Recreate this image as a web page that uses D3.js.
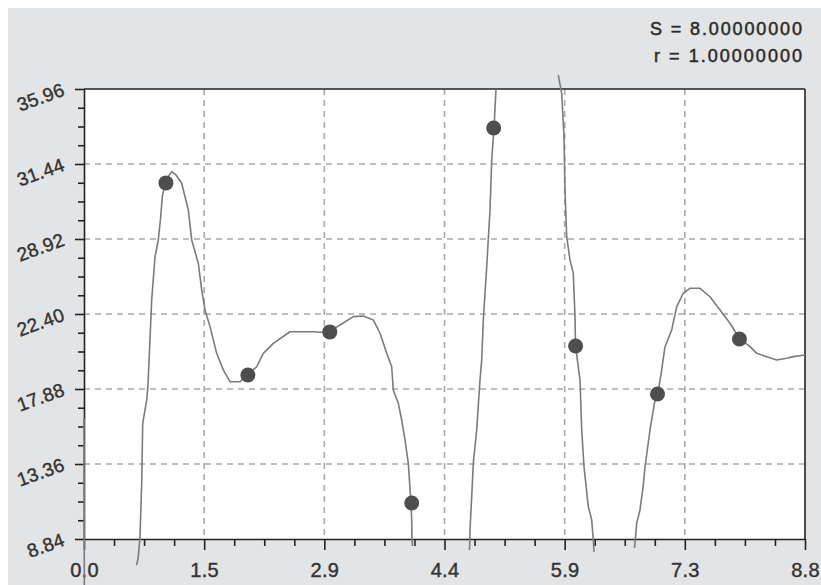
<!DOCTYPE html>
<html>
<head>
<meta charset="utf-8">
<script src="https://cdn.jsdelivr.net/npm/d3@7"></script>
<style>
  html, body { margin: 0; padding: 0; background: #ffffff; }
  svg { display: block; font-family: "Liberation Sans", Arial, sans-serif; }
</style>
</head>
<body>
<script>
// ---------------- data ----------------
const xTickValues = [0, 1.4667, 2.9333, 4.4, 5.8667, 7.3333, 8.8];
const xTickLabels = ["0.0", "1.5", "2.9", "4.4", "5.9", "7.3", "8.8"];
const yTickValues = [8.84, 13.36, 17.88, 22.40, 26.92, 31.44, 35.96];
const yTickLabels = ["8.84", "13.36", "17.88", "22.40", "28.92", "31.44", "35.96"];

const pointX = [1, 2, 3, 4, 5, 6, 7, 8];
const pointY = [30.30, 18.72, 21.32, 11.01, 33.61, 20.47, 17.58, 20.89];

const annotationLines = ["S = 8.00000000", "r = 1.00000000"];

// fitted spline, traced in pieces (it leaves the frame between them)
const curveA = [[0, 16.13], [0.004, 6.07]];
const curveB = [[0.6432, 7.27], [0.6627, 7.77], [0.6835, 8.98], [0.7042, 12.20], [0.7165, 15.81],
  [0.7653, 17.22], [0.7811, 18.12], [0.8263, 23.24], [0.8666, 25.85], [0.9069, 26.86],
  [0.9361, 28.26], [0.9557, 29.47], [1.0008, 30.48], [1.0704, 30.98], [1.1229, 30.78],
  [1.1925, 30.28], [1.2730, 28.67], [1.3145, 26.86], [1.3951, 25.46], [1.4366, 23.85],
  [1.4768, 22.64], [1.5379, 21.64], [1.6196, 20.03], [1.7002, 19.03], [1.7820, 18.32],
  [1.9040, 18.32], [1.9858, 18.72], [2.1079, 19.22], [2.1884, 20.03], [2.3105, 20.63],
  [2.5143, 21.33], [2.7987, 21.33], [2.9818, 21.27], [3.1246, 21.74], [3.2869, 22.24],
  [3.4089, 22.28], [3.5310, 22.04], [3.6128, 21.24], [3.6945, 20.03], [3.7556, 19.22],
  [3.7751, 17.82], [3.8361, 17.02], [3.8776, 16.01], [3.9179, 14.81], [3.9582, 13.40],
  [3.9911, 11.01], [3.9997, 9.99], [4.0033, 8.84], [4.0094, 8.42]];
const curveC = [[4.7051, 8.18], [4.7112, 9.38], [4.7320, 11.37], [4.7515, 13.42], [4.7930, 15.41],
  [4.8333, 18.42], [4.8540, 19.63], [4.8736, 22.04], [4.9151, 25.23], [4.9554, 28.67],
  [4.9761, 31.68], [5.0042, 33.61], [5.0286, 35.96]];
const curveD = [[5.7890, 36.80], [5.8305, 35.70], [5.8585, 33.09], [5.8708, 29.87], [5.8915, 27.06],
  [5.9318, 25.65], [5.9721, 24.85], [5.9928, 22.24], [5.9989, 20.53], [6.0538, 18.42],
  [6.0746, 15.41], [6.1027, 13.20], [6.1552, 10.79], [6.1966, 9.99], [6.2162, 8.78], [6.2247, 8.07]];
const curveE = [[6.7190, 8.30], [6.7251, 8.60], [6.7459, 9.80], [6.7861, 10.59], [6.8264, 12.09],
  [6.8472, 13.18], [6.9082, 15.41], [6.9692, 17.22], [7.0058, 17.64], [7.0510, 19.03],
  [7.0913, 20.43], [7.1730, 21.44], [7.2341, 22.84], [7.3146, 23.65], [7.3964, 23.95],
  [7.5185, 23.95], [7.6405, 23.44], [7.7626, 22.64], [7.8846, 21.84], [7.9981, 20.94],
  [8.1287, 20.43], [8.2105, 20.03], [8.3326, 19.83], [8.4546, 19.63], [8.5767, 19.73],
  [8.6573, 19.83], [8.8, 19.93]];
const curveSegments = [curveA, curveB, curveC, curveD, curveE];

// ---------------- drawing ----------------
const W = 821, H = 585;
const svg = d3.select("body").append("svg").attr("width", W).attr("height", H);

svg.append("rect").attr("x", 0).attr("y", 0).attr("width", W).attr("height", H).attr("fill", "#ffffff");
svg.append("rect").attr("x", 8).attr("y", 8).attr("width", W - 8).attr("height", H - 8).attr("fill", "#e3e4e6");

const x = d3.scaleLinear().domain([0, 8.8]).range([84, 805]);
const y = d3.scaleLinear().domain([8.84, 35.96]).range([539, 89]);

// plot area
svg.append("rect")
  .attr("x", x(0)).attr("y", y(35.96))
  .attr("width", x(8.8) - x(0)).attr("height", y(8.84) - y(35.96))
  .attr("fill", "#ffffff");

// grid
const grid = svg.append("g").attr("stroke", "#a9a9a9").attr("stroke-width", 1.6)
  .attr("stroke-dasharray", "6,5");
grid.selectAll("line.vx").data(xTickValues.slice(1, -1)).join("line")
  .attr("x1", d => x(d)).attr("x2", d => x(d))
  .attr("y1", y(35.96)).attr("y2", y(8.84));
grid.selectAll("line.hy").data(yTickValues.slice(1, -1)).join("line")
  .attr("x1", x(0)).attr("x2", x(8.8))
  .attr("y1", d => y(d)).attr("y2", d => y(d));

// minor tick positions (4 subdivisions between majors)
const minorX = [];
for (let i = 0; i < xTickValues.length - 1; i++) {
  const a = xTickValues[i], b = xTickValues[i + 1];
  for (let k = 1; k < 4; k++) minorX.push(a + (b - a) * k / 4);
}
const minorY = [];
for (let i = 0; i < yTickValues.length - 1; i++) {
  const a = yTickValues[i], b = yTickValues[i + 1];
  for (let k = 1; k < 4; k++) minorY.push(a + (b - a) * k / 4);
}

// frame top / right
svg.append("line").attr("x1", x(0)).attr("x2", x(8.8)).attr("y1", y(35.96)).attr("y2", y(35.96))
  .attr("stroke", "#222").attr("stroke-width", 1.6);
svg.append("line").attr("x1", x(8.8)).attr("x2", x(8.8)).attr("y1", y(35.96)).attr("y2", y(8.84))
  .attr("stroke", "#222").attr("stroke-width", 1.6);

// x axis
const gx = svg.append("g").attr("transform", `translate(0,${y(8.84)})`);
gx.call(d3.axisBottom(x).tickValues(xTickValues)
  .tickFormat((d, i) => xTickLabels[i]).tickSize(11).tickSizeOuter(0).tickPadding(13));
const gxm = svg.append("g").attr("transform", `translate(0,${y(8.84)})`);
gxm.call(d3.axisBottom(x).tickValues(minorX).tickFormat("").tickSize(7).tickSizeOuter(0));
gxm.select(".domain").remove();

// y axis
const gy = svg.append("g").attr("transform", `translate(${x(0)},0)`);
gy.call(d3.axisLeft(y).tickValues(yTickValues).tickFormat("").tickSize(9).tickSizeOuter(0));
const gym = svg.append("g").attr("transform", `translate(${x(0)},0)`);
gym.call(d3.axisLeft(y).tickValues(minorY).tickFormat("").tickSize(6).tickSizeOuter(0));
gym.select(".domain").remove();

[gx, gxm, gy, gym].forEach(g => {
  g.selectAll(".domain").attr("stroke", "#222").attr("stroke-width", 1.6);
  g.selectAll(".tick line").attr("stroke", "#222").attr("stroke-width", 1.6);
});
gx.selectAll(".tick text")
  .attr("font-family", "'Liberation Sans', Arial, sans-serif")
  .attr("font-size", 20).attr("fill", "#333").attr("stroke", "#333").attr("stroke-width", 0.4)
  .attr("letter-spacing", 0.3);

// rotated y tick labels
svg.append("g").selectAll("text").data(yTickValues).join("text")
  .attr("transform", d => `translate(66,${y(d) + 6}) rotate(-20)`)
  .attr("text-anchor", "end")
  .attr("font-size", 19).attr("fill", "#333").attr("stroke", "#333").attr("stroke-width", 0.4)
  .attr("letter-spacing", 0.3)
  .text((d, i) => yTickLabels[i]);

// curve
const line = d3.line().x(d => x(d[0])).y(d => y(d[1])).curve(d3.curveLinear);
svg.append("g").selectAll("path").data(curveSegments).join("path")
  .attr("d", line)
  .attr("fill", "none").attr("stroke", "#7b7b7b").attr("stroke-width", 1.6)
  .attr("stroke-linejoin", "round");

// data points
svg.append("g").selectAll("circle").data(pointX).join("circle")
  .attr("cx", d => x(d)).attr("cy", (d, i) => y(pointY[i]))
  .attr("r", 7.5).attr("fill", "#4e4e4e");

// annotation
svg.append("g").selectAll("text").data(annotationLines).join("text")
  .attr("x", 802).attr("y", (d, i) => 35 + i * 27)
  .attr("text-anchor", "end")
  .attr("font-size", 18).attr("fill", "#2b2b2b").attr("stroke", "#2b2b2b").attr("stroke-width", 0.5)
  .attr("textLength", (d, i) => i === 0 ? 152 : 148)
  .attr("lengthAdjust", "spacing")
  .text(d => d);
</script>
</body>
</html>
